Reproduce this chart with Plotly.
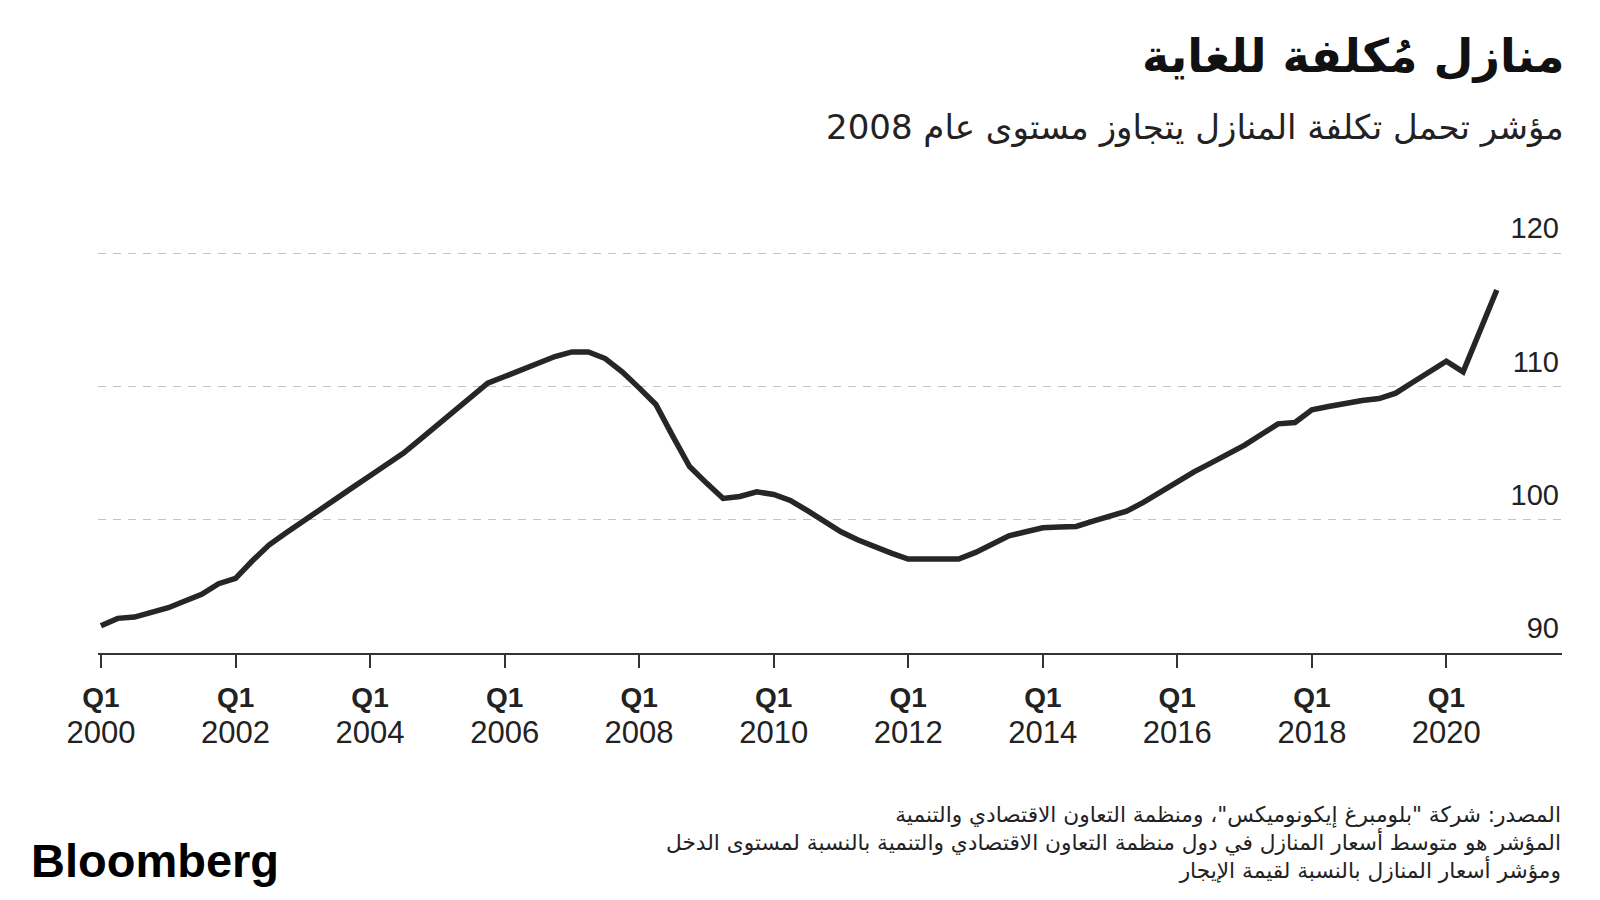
import plotly.graph_objects as go
import pandas as pd

# ---------------------------------------
# Data (quarterly index, 2000 Q1 - 2020 Q4)
# ---------------------------------------

start_quarter = "2000Q1"
end_quarter = "2020Q4"

affordability_index = [
    92.05, 92.6, 92.7, 93.0,
    93.4, 93.9, 94.4, 95.2,
    95.6, 96.9, 98.1, 99.0,
    99.9, 100.75, 101.6, 102.45,
    103.3, 104.2, 105.0, 106.05,
    107.1, 108.1, 109.2, 110.25,
    110.75, 111.25, 111.75, 112.25,
    112.6, 112.6, 112.1, 111.1,
    109.9, 108.65, 106.3, 104.0,
    102.75, 101.6, 101.75, 102.1,
    101.9, 101.45, 100.7, 99.9,
    99.1, 98.5, 97.95, 97.5,
    97.05, 97.05, 97.05, 97.05,
    97.55, 98.2, 98.8, 99.1,
    99.4, 99.45, 99.5, 99.9,
    100.25, 100.65, 101.3, 102.1,
    102.9, 103.6, 104.25, 104.9,
    105.6, 106.4, 107.2, 107.3,
    108.25, 108.5, 108.75, 108.95,
    109.1, 109.5, 110.3, 111.1,
    111.9, 111.1, 114.1, 117.25,
]

tick_years = [2000, 2002, 2004, 2006, 2008, 2010, 2012, 2014, 2016, 2018, 2020]
y_ticks = [90, 100, 110, 120]

title = "منازل مُكلفة للغاية"
subtitle = "مؤشر تحمل تكلفة المنازل يتجاوز مستوى عام 2008"
footer_lines = [
    "المصدر: شركة \"بلومبرغ إيكونوميكس\"، ومنظمة التعاون الاقتصادي والتنمية",
    "المؤشر هو متوسط أسعار المنازل في دول منظمة التعاون الاقتصادي والتنمية بالنسبة لمستوى الدخل",
    "ومؤشر أسعار المنازل بالنسبة لقيمة الإيجار",
]

quarters = pd.period_range(start_quarter, end_quarter, freq="Q").to_timestamp()

# ---------------------------------------
# Layout constants
# (page has an 8px body margin, so page pixels are shifted by OFF)
# ---------------------------------------

W, H = 1600, 900
OFF = 8
M_L, M_R, M_T, M_B = 90, 46, 192, 255

AR_FONT = "DejaVu Sans"
NUM_FONT = "Liberation Sans, Arial, sans-serif"
INK = "#222222"


def px_x(px):
    return (px - OFF - M_L) / (W - M_L - M_R)


def px_y(py):
    return (H - M_B - (py - OFF)) / (H - M_T - M_B)


fig = go.Figure()

fig.add_trace(
    go.Scatter(
        x=quarters,
        y=affordability_index,
        mode="lines",
        line=dict(color="#262626", width=5.5),
        hoverinfo="skip",
        showlegend=False,
    )
)

fig.update_xaxes(
    type="date",
    range=["1999-12-16", "2021-09-20"],
    tickvals=[pd.Timestamp(f"{y}-01-01") for y in tick_years],
    ticktext=[f"<b>Q1</b><br><span style='font-size:31px'>{y}</span>" for y in tick_years],
    tickfont=dict(family=NUM_FONT, size=28, color=INK),
    ticklabelstandoff=5,
    showgrid=False,
    zeroline=False,
    showline=True,
    linecolor="#333333",
    linewidth=2,
    ticks="outside",
    ticklen=13,
    tickwidth=2,
    tickcolor="#333333",
)

fig.update_yaxes(
    side="right",
    range=[90, 124],
    tickvals=y_ticks,
    ticktext=[str(v) for v in y_ticks],
    tickfont=dict(family=NUM_FONT, size=29, color=INK),
    ticklabelposition="inside",
    ticklabelshift=-25,
    ticklabeloverflow="allow",
    ticks="",
    showgrid=True,
    gridcolor="#c4c4c4",
    gridwidth=1.3,
    griddash="8px,7px",
    zeroline=False,
    showline=False,
)

annotations = [
    dict(
        text=f"<b>{title}</b>",
        x=px_x(1566), y=px_y(56),
        xanchor="right", yanchor="middle",
        font=dict(family=AR_FONT, size=46, color="#111111"),
    ),
    dict(
        text=subtitle,
        x=px_x(1566), y=px_y(127),
        xanchor="right", yanchor="middle",
        font=dict(family=AR_FONT, size=34, color=INK),
    ),
    dict(
        text="<br>".join(footer_lines),
        x=px_x(1563), y=px_y(842),
        xanchor="right", yanchor="middle", align="right",
        font=dict(family=AR_FONT, size=21.7, color=INK),
    ),
    dict(
        text="<b>Bloomberg</b>",
        x=px_x(29), y=px_y(860),
        xanchor="left", yanchor="middle",
        font=dict(family="Liberation Sans, Arial, sans-serif", size=47, color="#000000"),
    ),
]

for a in annotations:
    fig.add_annotation(xref="paper", yref="paper", showarrow=False, **a)

fig.update_layout(
    width=W,
    height=H,
    margin=dict(l=M_L, r=M_R, t=M_T, b=M_B, autoexpand=False),
    paper_bgcolor="white",
    plot_bgcolor="white",
)

fig.write_html("out.html")
